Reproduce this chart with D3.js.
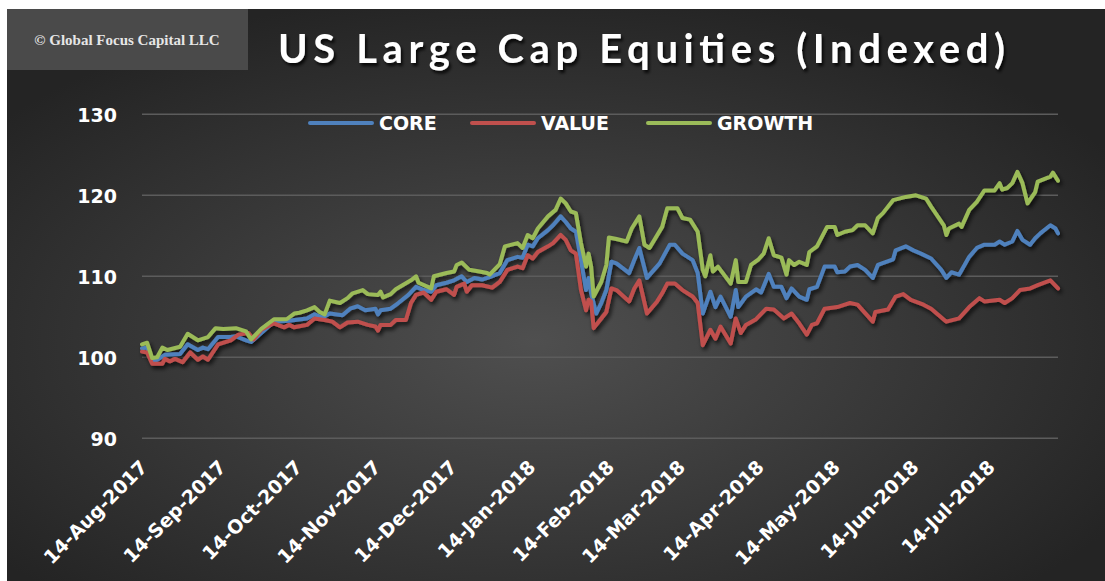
<!DOCTYPE html>
<html>
<head>
<meta charset="utf-8">
<script src="https://cdn.jsdelivr.net/npm/d3@7"></script>
<style>
  body { margin: 0; background: #ffffff; }
  svg { display: block; }
</style>
</head>
<body>
<div id="vis1"></div>
<script>
const FRAME_WIDTH = 1105;
const FRAME_HEIGHT = 581;
const PLOT = {left: 142, right: 1058, top: 114.3, bottom: 438.3};

// series names + colours (legend order)
const SERIES_NAMES = ["CORE", "VALUE", "GROWTH"];
const SERIES_COLORS = ["#4f81bd", "#c0504d", "#9bbb59"];

// [days since 14-Aug-2017, index level]
const CORE = [
  [0,101.1],[2,101.2],[4,99.5],[6,99.7],[9,100.3],[15,100.4],[18,101.6],[22,100.9],[24,101.2],[26,101.0],
  [30,102.5],[35,102.5],[37,102.6],[41,102.1],[43,101.9],[47,103.0],[52,104.4],[58,104.5],[65,104.8],[68,105.3],
  [71,104.9],[74,105.4],[79,105.2],[82,106.0],[85,106.3],[88,105.8],[92,106.0],[93,105.3],[94,105.8],[98,106.0],
  [101,106.7],[105,107.7],[108,108.7],[111,108.3],[114,108.1],[116,108.9],[120,109.2],[123,109.5],[126,110.0],[128,109.3],
  [131,109.8],[134,109.6],[137,109.9],[141,110.4],[144,112.0],[148,112.4],[150,112.3],[152,113.9],[154,113.7],[156,114.7],
  [160,115.7],[162,116.3],[165,117.4],[167,116.7],[169,115.9],[171,115.5],[173,112.0],[175,108.3],[176,109.8],[177,107.9],
  [179,105.4],[181,106.7],[183,108.3],[185,111.8],[187,111.6],[192,110.4],[194,112.0],[196,113.5],[199,109.8],[204,111.6],
  [208,113.9],[210,113.9],[213,112.8],[217,112.0],[219,110.4],[221,105.4],[224,108.1],[226,106.2],[228,107.5],[232,105.0],
  [234,108.3],[235,106.2],[238,107.5],[242,108.4],[244,108.0],[247,110.3],[249,108.7],[252,108.7],[254,107.3],[256,108.5],
  [259,107.5],[262,107.1],[263,108.4],[266,108.7],[269,111.2],[273,111.2],[274,110.5],[277,110.6],[279,111.2],[282,111.4],
  [285,110.8],[288,109.8],[290,111.4],[296,112.1],[297,113.2],[301,113.7],[304,113.2],[307,112.8],[311,112.2],[315,110.8],
  [317,109.8],[319,110.5],[322,110.2],[326,112.4],[329,113.5],[332,113.9],[336,113.9],[338,114.3],[340,113.9],[343,114.3],
  [345,115.6],[347,114.5],[350,113.9],[352,114.7],[354,115.3],[358,116.3],[360,115.9],[361,115.3]
];

const VALUE = [
  [0,100.7],[2,100.6],[4,99.2],[8,99.2],[9,99.8],[11,99.5],[13,99.8],[16,99.4],[19,100.6],[22,99.7],
  [24,100.1],[26,99.7],[30,101.6],[35,102.1],[38,102.8],[42,103.0],[44,102.2],[47,103.4],[52,104.2],[56,103.7],
  [58,104.0],[60,103.7],[65,104.0],[68,104.8],[72,104.6],[75,104.4],[78,103.7],[81,104.3],[85,104.4],[89,104.0],
  [92,103.8],[93,103.3],[94,104.0],[98,104.0],[100,104.6],[104,104.6],[106,106.7],[108,107.7],[111,108.0],[114,107.1],
  [116,108.1],[120,108.4],[123,107.7],[124,108.7],[127,109.1],[128,108.1],[130,108.9],[134,108.9],[138,108.6],[141,109.3],
  [144,110.8],[148,111.2],[150,111.0],[152,112.6],[154,112.2],[156,113.0],[160,113.7],[162,114.1],[165,115.1],[167,114.5],
  [169,113.2],[171,112.8],[173,108.3],[175,105.8],[176,107.1],[177,106.9],[178,103.6],[181,104.8],[183,105.6],[185,108.5],
  [187,108.3],[192,106.9],[194,108.5],[196,109.5],[199,105.4],[203,106.9],[205,107.9],[207,109.1],[210,109.1],[213,108.3],
  [217,107.5],[219,106.7],[221,101.5],[224,103.4],[226,102.3],[228,103.8],[232,101.7],[234,104.8],[236,103.0],[238,104.0],
  [242,104.7],[246,106.0],[249,105.9],[253,104.8],[256,105.4],[259,104.2],[262,102.8],[264,104.0],[266,104.2],[269,106.0],
  [274,106.2],[277,106.5],[279,106.7],[282,106.5],[288,104.4],[289,105.6],[294,105.9],[297,107.5],[300,107.8],[303,107.1],
  [308,106.5],[311,106.0],[317,104.4],[322,104.8],[326,106.2],[330,107.3],[332,106.9],[338,107.1],[340,106.7],[343,107.3],
  [346,108.3],[350,108.5],[353,108.9],[358,109.5],[361,108.5]
];

const GROWTH = [
  [0,101.6],[2,101.8],[4,99.9],[6,100.0],[8,101.2],[10,100.9],[15,101.3],[18,102.9],[22,102.1],[26,102.5],
  [29,103.6],[32,103.5],[37,103.6],[41,103.2],[43,102.2],[47,103.5],[52,104.7],[57,104.7],[60,105.4],[62,105.5],
  [65,105.8],[68,106.2],[70,105.6],[72,105.3],[74,107.0],[78,106.7],[81,107.3],[83,107.9],[87,108.3],[89,107.8],
  [93,107.7],[94,108.1],[95,107.4],[98,107.8],[100,108.4],[106,109.5],[108,110.0],[109,109.2],[114,108.5],[115,110.0],
  [120,110.4],[123,110.6],[124,111.4],[126,111.7],[129,110.8],[133,110.6],[136,110.4],[137,110.2],[141,111.5],[143,113.7],
  [148,114.1],[150,113.5],[152,115.1],[154,114.7],[156,115.9],[160,117.4],[163,118.2],[165,119.6],[167,119.0],[169,118.0],
  [171,117.8],[173,114.1],[175,111.2],[176,112.8],[177,111.2],[178,107.5],[181,109.3],[183,111.4],[184,114.8],[187,114.6],
  [191,114.3],[193,115.9],[196,117.4],[198,113.9],[200,113.5],[205,116.1],[207,118.4],[211,118.4],[213,117.2],[216,117.0],
  [219,115.5],[221,110.8],[222,110.0],[224,112.6],[225,110.6],[227,111.2],[232,109.1],[234,112.0],[235,109.3],[238,109.3],
  [240,111.4],[243,112.1],[245,112.8],[247,114.7],[249,112.6],[252,112.3],[254,110.2],[255,112.0],[257,111.4],[259,111.8],
  [262,111.4],[263,113.0],[266,113.7],[268,114.9],[270,116.1],[273,116.1],[274,115.1],[277,115.5],[280,115.7],[282,116.3],
  [285,116.3],[288,115.3],[290,117.2],[292,117.8],[296,119.4],[301,119.8],[305,120.0],[309,119.6],[311,118.6],[316,116.3],
  [317,115.1],[318,115.9],[322,116.5],[323,116.1],[326,118.2],[329,119.2],[332,120.6],[336,120.6],[338,121.5],[339,120.7],
  [341,120.9],[343,121.5],[345,122.9],[347,121.5],[349,119.0],[352,120.4],[353,121.7],[358,122.3],[359,122.8],[361,121.8]
];

const Y_TICKS = [90, 100, 110, 120, 130];
const X_TICK_LABELS = ["14-Aug-2017", "14-Sep-2017", "14-Oct-2017", "14-Nov-2017", "14-Dec-2017", "14-Jan-2018",
                       "14-Feb-2018", "14-Mar-2018", "14-Apr-2018", "14-May-2018", "14-Jun-2018", "14-Jul-2018"];

const START_DATE = new Date(Date.UTC(2017, 7, 14));
const END_DATE = d3.utcDay.offset(START_DATE, 361);
const PARSE = d3.utcParse("%d-%b-%Y");

const FRAME1 = d3.select("#vis1")
                  .append("svg")
                  .attr("width", FRAME_WIDTH)
                  .attr("height", FRAME_HEIGHT);

const DEFS = FRAME1.append("defs");

const BG_GRAD = DEFS.append("radialGradient")
                    .attr("id", "bg")
                    .attr("cx", "48%").attr("cy", "58%").attr("r", "62%");
BG_GRAD.append("stop").attr("offset", "0%").attr("stop-color", "#4f4f4f");
BG_GRAD.append("stop").attr("offset", "100%").attr("stop-color", "#242424");

DEFS.append("filter").attr("id", "shadow")
    .attr("x", "-5%").attr("y", "-5%").attr("width", "110%").attr("height", "120%")
    .append("feDropShadow")
      .attr("dx", 2).attr("dy", 3).attr("stdDeviation", 2)
      .attr("flood-color", "#000").attr("flood-opacity", 0.75);

DEFS.append("filter").attr("id", "tshadow")
    .append("feDropShadow")
      .attr("dx", 2).attr("dy", 3).attr("stdDeviation", 1.5)
      .attr("flood-color", "#000").attr("flood-opacity", 0.8);

// background
FRAME1.append("rect")
      .attr("x", 7).attr("y", 9)
      .attr("width", FRAME_WIDTH - 7).attr("height", FRAME_HEIGHT - 9)
      .attr("fill", "url(#bg)");

// copyright box
FRAME1.append("rect")
      .attr("x", 7).attr("y", 9)
      .attr("width", 241).attr("height", 61)
      .attr("fill", "#4a4a4a");

FRAME1.append("text")
      .attr("x", 127).attr("y", 45)
      .attr("text-anchor", "middle")
      .attr("font-family", "Liberation Serif, serif")
      .attr("font-weight", "bold")
      .attr("font-size", "15px")
      .attr("fill", "#e6e6e6")
      .text("\u00a9 Global Focus Capital LLC");

// title
FRAME1.append("text")
      .attr("x", 278).attr("y", 63)
      .attr("textLength", 727)
      .attr("lengthAdjust", "spacing")
      .attr("font-family", "Lato, sans-serif")
      .attr("font-weight", "bold")
      .attr("font-size", "40px")
      .attr("fill", "#ffffff")
      .attr("filter", "url(#tshadow)")
      .text("US  Large  Cap  Equities  (Indexed)");

const X_SCALE = d3.scaleUtc()
                  .domain([START_DATE, END_DATE])
                  .range([PLOT.left, PLOT.right]);

const Y_SCALE = d3.scaleLinear()
                  .domain([90, 130])
                  .range([PLOT.bottom, PLOT.top]);

// gridlines
FRAME1.append("g")
      .selectAll("line")
      .data(Y_TICKS)
      .enter()
      .append("line")
        .attr("x1", PLOT.left).attr("x2", PLOT.right)
        .attr("y1", (d) => Y_SCALE(d)).attr("y2", (d) => Y_SCALE(d))
        .attr("stroke", "#5c5c5c")
        .attr("stroke-width", 1.5);

// y axis labels
const Y_AXIS = FRAME1.append("g")
      .attr("transform", "translate(" + (PLOT.left - 25) + ",0)")
      .call(d3.axisLeft(Y_SCALE).tickValues(Y_TICKS).tickSize(0).tickPadding(0));
Y_AXIS.select(".domain").remove();
Y_AXIS.selectAll("text")
      .attr("fill", "#ffffff")
      .attr("font-family", "DejaVu Sans, sans-serif")
      .attr("font-weight", "bold")
      .attr("font-size", "19px")
      .attr("dy", "0.36em");

// x axis labels
const X_AXIS = FRAME1.append("g")
      .attr("transform", "translate(0," + (PLOT.bottom + 30) + ")")
      .call(d3.axisBottom(X_SCALE)
              .tickValues(X_TICK_LABELS.map(PARSE))
              .tickFormat(d3.utcFormat("%d-%b-%Y"))
              .tickSize(0));
X_AXIS.select(".domain").remove();
X_AXIS.selectAll("text")
      .attr("fill", "#ffffff")
      .attr("font-family", "DejaVu Sans, sans-serif")
      .attr("font-weight", "bold")
      .attr("font-size", "19px")
      .attr("text-anchor", "end")
      .attr("dy", 0)
      .attr("y", 0)
      .attr("transform", "translate(6,0) rotate(-45)");

// lines
const LINE = d3.line()
               .x((d) => X_SCALE(d3.utcDay.offset(START_DATE, d[0])))
               .y((d) => Y_SCALE(d[1]));

const ALL_SERIES = [CORE, VALUE, GROWTH];

FRAME1.append("g")
      .attr("filter", "url(#shadow)")
      .selectAll("path")
      .data(ALL_SERIES)
      .enter()
      .append("path")
        .attr("d", (d) => LINE(d))
        .attr("fill", "none")
        .attr("stroke", (d, i) => SERIES_COLORS[i])
        .attr("stroke-width", 4)
        .attr("stroke-linejoin", "round")
        .attr("stroke-linecap", "round");

// legend
const LEGEND_X = [310, 472, 648];
const LEGEND = FRAME1.append("g")
      .selectAll("g")
      .data(SERIES_NAMES)
      .enter()
      .append("g")
        .attr("transform", (d, i) => "translate(" + LEGEND_X[i] + ",123)");

LEGEND.append("line")
      .attr("x1", 0).attr("x2", 62)
      .attr("y1", 0).attr("y2", 0)
      .attr("stroke", (d, i) => SERIES_COLORS[i])
      .attr("stroke-width", 4)
      .attr("stroke-linecap", "round");

LEGEND.append("text")
      .attr("x", 69).attr("y", 7)
      .attr("fill", "#ffffff")
      .attr("font-family", "DejaVu Sans, sans-serif")
      .attr("font-weight", "bold")
      .attr("font-size", "19px")
      .text((d) => d);
</script>
</body>
</html>
